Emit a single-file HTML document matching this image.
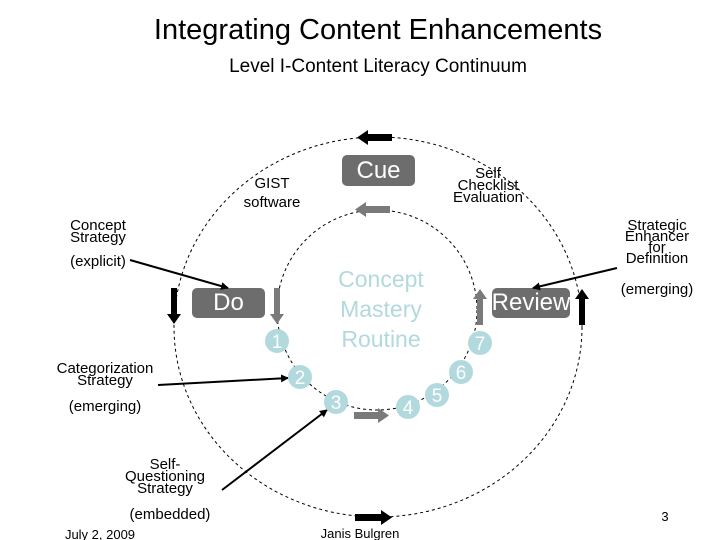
<!DOCTYPE html>
<html><head><style>
body{margin:0;background:#fff;}
.t{position:absolute;font-family:"Liberation Sans",sans-serif;color:#000;text-align:center;line-height:1;white-space:nowrap;}
</style></head><body>
<div style="position:relative;width:720px;height:540px;overflow:hidden;">
<svg width="720" height="540" style="position:absolute;left:0;top:0">
<defs>
<marker id="ah" markerWidth="8" markerHeight="8" refX="7" refY="4" orient="auto" markerUnits="userSpaceOnUse"><path d="M0,0L8,4L0,8z" fill="#000"/></marker>
</defs>
<ellipse cx="378" cy="327" rx="204" ry="190" fill="none" stroke="#000" stroke-width="1" stroke-dasharray="3,3"/>
<ellipse cx="377" cy="310" rx="100" ry="100" fill="none" stroke="#000" stroke-width="1" stroke-dasharray="3,3"/>
<rect x="342" y="155" width="73" height="31" rx="5" fill="#6d6d6d"/>
<rect x="192" y="288" width="73" height="30" rx="5" fill="#6d6d6d"/>
<rect x="492" y="288" width="78" height="30" rx="5" fill="#6d6d6d"/>
<path d="M274,288h6v26h4l-7,10l-7,-10h4z" fill="#7a7a7a"/>
<path d="M477,325h6v-26h4l-7,-10l-7,10h4z" fill="#7a7a7a"/>
<path d="M390,206v7h-24v4l-11,-7.5l11,-7.5v4z" fill="#7a7a7a"/>
<path d="M354,412v7h24v4l11,-7.5l-11,-7.5v4z" fill="#7a7a7a"/>
<path d="M579,325h6v-26h4l-7,-10l-7,10h4z" fill="#000"/>
<path d="M171,288h6v26h4l-7,10l-7,-10h4z" fill="#000"/>
<path d="M392,134v7h-24v4l-11,-7.5l11,-7.5v4z" fill="#000"/>
<path d="M355,514v7h26v4l11,-7.5l-11,-7.5v4z" fill="#000"/>
<line x1="130" y1="260" x2="228" y2="288" stroke="#000" stroke-width="2" marker-end="url(#ah)"/>
<line x1="617" y1="268" x2="533" y2="288" stroke="#000" stroke-width="2" marker-end="url(#ah)"/>
<line x1="158" y1="385" x2="288" y2="378" stroke="#000" stroke-width="2" marker-end="url(#ah)"/>
<line x1="222" y1="490" x2="327" y2="410" stroke="#000" stroke-width="2" marker-end="url(#ah)"/>
<g fill="#b2d9de">
<circle cx="277" cy="341" r="12"/><circle cx="300" cy="377" r="12"/><circle cx="336" cy="402" r="12"/>
<circle cx="408" cy="407" r="12"/><circle cx="437" cy="395" r="12"/><circle cx="461" cy="372" r="12"/><circle cx="480" cy="343" r="12"/>
</g>
<g font-family="Liberation Sans" font-size="19" fill="#fff" text-anchor="middle">
<text x="277" y="348">1</text><text x="300" y="384">2</text><text x="336" y="409">3</text>
<text x="408" y="414">4</text><text x="437" y="402">5</text><text x="461" y="379">6</text><text x="480" y="350">7</text>
</g>
</svg>
<div class="t" style="left:0;width:756px;top:16px;font-size:29px;">Integrating Content Enhancements</div>
<div class="t" style="left:0;width:756px;top:57px;font-size:19px;">Level I-Content Literacy Continuum</div>
<div class="t" style="left:342px;width:73px;top:159px;font-size:24px;color:#fff;">Cue</div>
<div class="t" style="left:192px;width:73px;top:291px;font-size:24px;color:#fff;">Do</div>
<div class="t" style="left:490px;width:82px;top:291px;font-size:24px;color:#fff;">Review</div>
<div class="t" style="left:222px;width:100px;top:174px;font-size:15px;line-height:19px;">GIST<br>software</div>
<div class="t" style="left:438px;width:100px;top:168px;font-size:15px;line-height:12px;">Self<br>Checklist<br>Evaluation</div>
<div class="t" style="left:316px;width:130px;top:264px;font-size:23px;line-height:30px;color:#b2d9de;">Concept<br>Mastery<br>Routine</div>
<div class="t" style="left:48px;width:100px;top:220px;font-size:15px;line-height:12px;">Concept<br>Strategy</div>
<div class="t" style="left:48px;width:100px;top:254px;font-size:15px;">(explicit)</div>
<div class="t" style="left:602px;width:110px;top:220px;font-size:15px;line-height:11px;">Strategic<br>Enhancer<br>for<br>Definition</div>
<div class="t" style="left:602px;width:110px;top:282px;font-size:15px;">(emerging)</div>
<div class="t" style="left:40px;width:130px;top:363px;font-size:15px;line-height:12px;">Categorization<br>Strategy</div>
<div class="t" style="left:40px;width:130px;top:399px;font-size:15px;">(emerging)</div>
<div class="t" style="left:115px;width:100px;top:459px;font-size:15px;line-height:12px;">Self-<br>Questioning<br>Strategy</div>
<div class="t" style="left:115px;width:110px;top:507px;font-size:15px;">(embedded)</div>
<div class="t" style="left:650px;width:30px;top:510px;font-size:13px;">3</div>
<div class="t" style="left:55px;width:90px;top:528px;font-size:13px;">July 2, 2009</div>
<div class="t" style="left:310px;width:100px;top:527px;font-size:13px;">Janis Bulgren</div>
</div>
</body></html>
